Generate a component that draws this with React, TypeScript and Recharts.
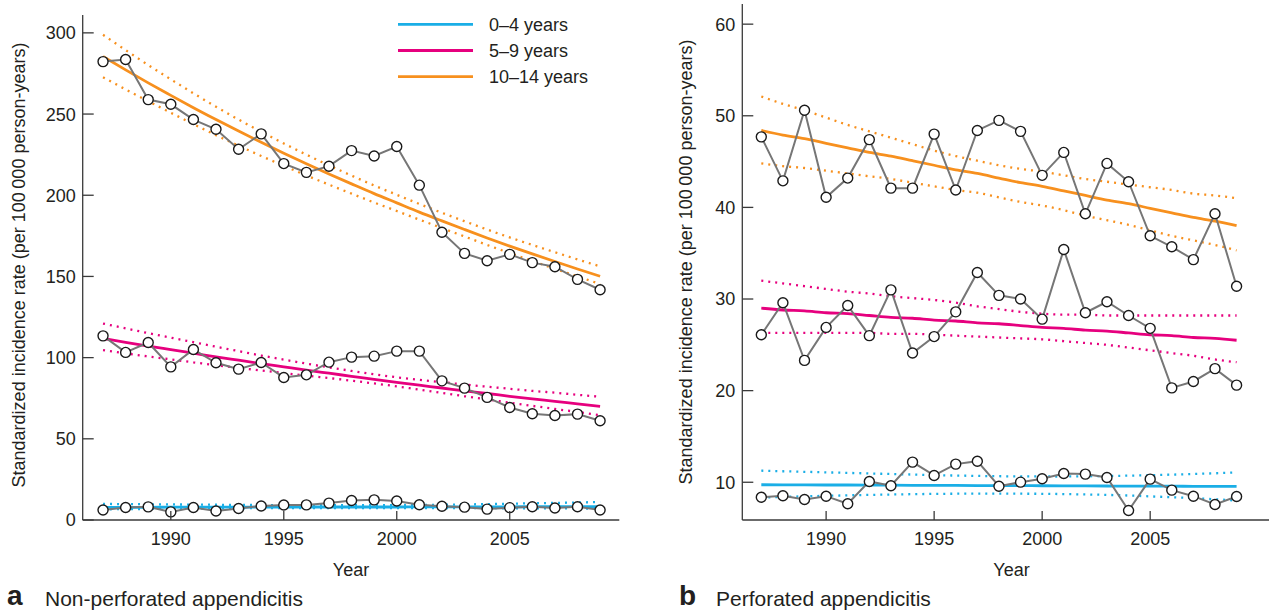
import { CartesianGrid, Line, LineChart, XAxis, YAxis } from "recharts";

const years = [
  1987, 1988, 1989, 1990, 1991, 1992, 1993, 1994, 1995, 1996, 1997, 1998,
  1999, 2000, 2001, 2002, 2003, 2004, 2005, 2006, 2007, 2008, 2009,
];
const xTicks = [1990, 1995, 2000, 2005];
const nonPerfTicks = [0, 50, 100, 150, 200, 250, 300];
const perfTicks = [10, 20, 30, 40, 50, 60];
const ageGroups = ["0\u20134 years", "5\u20139 years", "10\u201314 years"];

// a: non-perforated appendicitis
const nonPerf0to4 = [6.2, 7.7, 8.1, 5.0, 7.7, 5.5, 7.1, 8.6, 9.2, 9.3, 10.4, 12.0, 12.4, 11.7, 9.4, 8.5, 7.9, 6.7, 7.6, 8.2, 7.4, 8.2, 6.2];
const nonPerf0to4Fit = [7.8, 7.8, 7.8, 7.9, 7.9, 7.9, 7.9, 7.9, 7.9, 8.0, 8.0, 8.0, 8.0, 8.0, 8.1, 8.1, 8.1, 8.1, 8.1, 8.2, 8.2, 8.2, 8.2];
const nonPerf0to4Hi = [9.9, 9.8, 9.7, 9.6, 9.5, 9.4, 9.3, 9.2, 9.2, 9.1, 9.1, 9.1, 9.1, 9.2, 9.3, 9.4, 9.6, 9.8, 10.0, 10.3, 10.5, 10.8, 11.1];
const nonPerf0to4Lo = [6.6, 6.7, 6.8, 6.9, 7.0, 7.1, 7.2, 7.3, 7.3, 7.3, 7.3, 7.3, 7.3, 7.3, 7.3, 7.3, 7.3, 7.3, 7.2, 7.2, 7.1, 7.1, 7.0];

const nonPerf5to9 = [113.4, 103.2, 109.3, 94.3, 105.0, 96.8, 92.9, 97.0, 87.8, 89.4, 97.2, 100.3, 100.9, 104.0, 104.0, 85.7, 81.2, 75.5, 69.3, 65.4, 64.4, 65.2, 61.1];
const nonPerf5to9Fit = [111.8, 109.4, 107.1, 104.9, 102.7, 100.5, 98.4, 96.3, 94.3, 92.3, 90.4, 88.5, 86.6, 84.8, 83.0, 81.3, 79.5, 77.9, 76.2, 74.6, 73.1, 71.5, 70.0];
const nonPerf5to9Hi = [121.0, 118.0, 115.1, 112.3, 109.5, 106.7, 104.0, 101.3, 98.8, 96.3, 94.0, 91.8, 89.7, 87.9, 86.3, 84.9, 83.4, 82.1, 80.8, 79.5, 78.4, 77.1, 75.9];
const nonPerf5to9Lo = [104.6, 102.6, 100.7, 98.9, 97.1, 95.3, 93.7, 92.1, 90.5, 88.9, 87.4, 85.8, 84.1, 82.3, 80.3, 78.3, 76.2, 74.3, 72.2, 70.3, 68.4, 66.5, 64.6];

const nonPerf10to14 = [282.3, 283.6, 258.9, 256.0, 246.6, 240.6, 228.3, 237.8, 219.5, 214.1, 217.9, 227.5, 224.2, 230.0, 206.2, 177.2, 164.2, 159.7, 163.6, 158.5, 156.0, 148.2, 141.8];
const nonPerf10to14Fit = [285.4, 277.2, 269.2, 261.5, 253.9, 246.6, 239.5, 232.6, 225.9, 219.4, 213.1, 207.0, 201.0, 195.3, 189.6, 184.2, 178.9, 173.7, 168.7, 163.9, 159.2, 154.6, 150.1];
const nonPerf10to14Hi = [298.8, 289.4, 280.2, 271.4, 262.8, 254.5, 246.6, 239.1, 231.9, 225.0, 218.4, 212.1, 206.0, 200.3, 194.6, 189.2, 184.0, 178.9, 174.0, 169.4, 164.9, 160.5, 156.2];
const nonPerf10to14Lo = [272.7, 265.2, 257.9, 250.8, 243.8, 237.0, 230.5, 224.2, 218.1, 212.2, 206.5, 201.0, 195.5, 190.3, 185.0, 179.8, 174.6, 169.4, 164.4, 159.5, 154.7, 150.0, 145.3];

// b: perforated appendicitis
const perf0to4 = [8.37, 8.52, 8.12, 8.48, 7.65, 10.09, 9.62, 12.2, 10.74, 11.98, 12.3, 9.57, 10.01, 10.38, 10.96, 10.89, 10.52, 6.92, 10.34, 9.14, 8.48, 7.57, 8.45];
const perf0to4Fit = [9.73, 9.72, 9.71, 9.7, 9.7, 9.69, 9.68, 9.67, 9.66, 9.65, 9.64, 9.64, 9.63, 9.62, 9.61, 9.6, 9.59, 9.58, 9.58, 9.57, 9.56, 9.55, 9.54];
const perf0to4Hi = [11.26, 11.2, 11.14, 11.08, 11.02, 10.96, 10.9, 10.84, 10.78, 10.73, 10.69, 10.66, 10.64, 10.63, 10.63, 10.65, 10.68, 10.72, 10.77, 10.83, 10.9, 10.98, 11.07];
const perf0to4Lo = [8.34, 8.4, 8.46, 8.52, 8.57, 8.62, 8.66, 8.7, 8.73, 8.75, 8.76, 8.76, 8.75, 8.74, 8.71, 8.67, 8.62, 8.55, 8.46, 8.37, 8.26, 8.14, 8.0];

const perf5to9 = [26.1, 29.6, 23.3, 26.9, 29.3, 26.0, 31.0, 24.1, 25.9, 28.6, 32.9, 30.4, 30.0, 27.8, 35.4, 28.5, 29.7, 28.2, 26.8, 20.3, 21.0, 22.4, 20.6];
const perf5to9Fit = [29.0, 28.8, 28.7, 28.5, 28.4, 28.2, 28.0, 27.9, 27.7, 27.6, 27.4, 27.3, 27.1, 26.9, 26.8, 26.6, 26.5, 26.3, 26.1, 26.0, 25.8, 25.7, 25.5];
const perf5to9Hi = [32.0, 31.7, 31.4, 31.1, 30.8, 30.6, 30.3, 30.1, 29.9, 29.6, 29.2, 28.9, 28.6, 28.4, 28.3, 28.3, 28.2, 28.2, 28.2, 28.2, 28.2, 28.2, 28.2];
const perf5to9Lo = [26.3, 26.3, 26.3, 26.3, 26.3, 26.3, 26.2, 26.2, 26.1, 26.0, 25.9, 25.8, 25.7, 25.6, 25.4, 25.2, 25.0, 24.7, 24.4, 24.1, 23.8, 23.4, 23.1];

const perf10to14 = [47.7, 42.9, 50.6, 41.1, 43.2, 47.4, 42.1, 42.1, 48.0, 41.9, 48.4, 49.5, 48.3, 43.5, 46.0, 39.3, 44.8, 42.8, 36.9, 35.7, 34.3, 39.3, 31.4];
const perf10to14Fit = [48.4, 47.9, 47.5, 47.0, 46.5, 46.0, 45.6, 45.1, 44.6, 44.1, 43.7, 43.2, 42.7, 42.3, 41.8, 41.3, 40.8, 40.4, 39.9, 39.4, 38.9, 38.5, 38.0];
const perf10to14Hi = [52.1, 51.3, 50.6, 49.8, 49.0, 48.3, 47.6, 46.9, 46.2, 45.6, 45.1, 44.6, 44.2, 43.9, 43.5, 43.1, 42.8, 42.5, 42.2, 41.9, 41.5, 41.3, 41.0];
const perf10to14Lo = [44.8, 44.5, 44.3, 44.0, 43.7, 43.4, 43.1, 42.7, 42.3, 41.9, 41.6, 41.1, 40.6, 40.2, 39.7, 39.1, 38.6, 38.1, 37.5, 36.9, 36.4, 35.9, 35.3];

const colors = ["#1aaee6", "#e6007e", "#f7901e"];
const INK = "#231f20";
const AXIS = "#3a3a3a";
const FONT = "'Liberation Sans', Arial, Helvetica, sans-serif";

const nonPerfRows = years.map((year, i) => ({
  year,
  obs0: nonPerf0to4[i], fit0: nonPerf0to4Fit[i], hi0: nonPerf0to4Hi[i], lo0: nonPerf0to4Lo[i],
  obs1: nonPerf5to9[i], fit1: nonPerf5to9Fit[i], hi1: nonPerf5to9Hi[i], lo1: nonPerf5to9Lo[i],
  obs2: nonPerf10to14[i], fit2: nonPerf10to14Fit[i], hi2: nonPerf10to14Hi[i], lo2: nonPerf10to14Lo[i],
}));

const perfRows = years.map((year, i) => ({
  year,
  obs0: perf0to4[i], fit0: perf0to4Fit[i], hi0: perf0to4Hi[i], lo0: perf0to4Lo[i],
  obs1: perf5to9[i], fit1: perf5to9Fit[i], hi1: perf5to9Hi[i], lo1: perf5to9Lo[i],
  obs2: perf10to14[i], fit2: perf10to14Fit[i], hi2: perf10to14Hi[i], lo2: perf10to14Lo[i],
}));

function YTick({ x, y, payload }: any) {
  const ax = x + 7;
  return (
    <g>
      <line x1={ax} x2={ax + 11} y1={y} y2={y} stroke={AXIS} strokeWidth={1.3} />
      <text x={x} y={y} dy="0.36em" textAnchor="end" fontSize={18} fill={INK} fontFamily={FONT}>
        {payload.value}
      </text>
    </g>
  );
}

function XTick({ x, y, payload }: any) {
  const ay = y - 12;
  return (
    <g>
      <line x1={x} x2={x} y1={ay} y2={ay - 9} stroke={AXIS} strokeWidth={1.3} />
      <text x={x} y={ay + 25} textAnchor="middle" fontSize={18} fill={INK} fontFamily={FONT}>
        {payload.value}
      </text>
    </g>
  );
}

function Panel({ rows, width, margin, xDomain, yDomain, yTicks }: any) {
  const idx = [0, 1, 2];
  return (
    <LineChart width={width} height={612} data={rows} margin={margin}>
      <CartesianGrid stroke="none" />
      <XAxis
        dataKey="year"
        type="number"
        domain={xDomain}
        ticks={xTicks}
        interval={0}
        allowDataOverflow
        height={30}
        tickLine={false}
        tickSize={0}
        tickMargin={12}
        axisLine={{ stroke: AXIS, strokeWidth: 1.3 }}
        tick={<XTick />}
      />
      <YAxis
        type="number"
        domain={yDomain}
        ticks={yTicks}
        interval={0}
        allowDataOverflow
        width={60}
        tickLine={false}
        tickSize={0}
        tickMargin={7}
        axisLine={{ stroke: AXIS, strokeWidth: 1.3 }}
        tick={<YTick />}
      />
      {idx.map((g) => (
        <Line key={`hi${g}`} dataKey={`hi${g}`} type="monotone" stroke={colors[g]} strokeWidth={2.3}
          strokeDasharray="2 5" dot={false} activeDot={false} isAnimationActive={false} />
      ))}
      {idx.map((g) => (
        <Line key={`lo${g}`} dataKey={`lo${g}`} type="monotone" stroke={colors[g]} strokeWidth={2.3}
          strokeDasharray="2 5" dot={false} activeDot={false} isAnimationActive={false} />
      ))}
      {idx.map((g) => (
        <Line key={`fit${g}`} dataKey={`fit${g}`} type="monotone" stroke={colors[g]} strokeWidth={2.8}
          dot={false} activeDot={false} isAnimationActive={false} />
      ))}
      {idx.map((g) => (
        <Line key={`obs${g}`} dataKey={`obs${g}`} type="linear" stroke="#767676" strokeWidth={2}
          dot={{ r: 5, fill: "#fff", stroke: "#1a1a1a", strokeWidth: 1.4 }}
          activeDot={false} isAnimationActive={false} />
      ))}
    </LineChart>
  );
}

export default function App() {
  const yLabel = "Standardized incidence rate (per 100\u2009000 person-years)";
  return (
    <div style={{ position: "absolute", left: 0, top: 0, width: 1269, height: 612, background: "#fff", overflow: "hidden" }}>
      <div style={{ position: "absolute", left: 0, top: 0 }}>
        <Panel
          rows={nonPerfRows}
          width={640}
          margin={{ top: 15, right: 20.7, bottom: 62, left: 22.7 }}
          xDomain={[1986.1, 2009.85]}
          yDomain={[0, 311]}
          yTicks={nonPerfTicks}
        />
      </div>
      <div style={{ position: "absolute", left: 640, top: 0 }}>
        <Panel
          rows={perfRows}
          width={629}
          margin={{ top: 4, right: 0, bottom: 62, left: 42.3 }}
          xDomain={[1986.12, 2010.5]}
          yDomain={[5.88, 62.2]}
          yTicks={perfTicks}
        />
      </div>
      <svg width={1269} height={612} style={{ position: "absolute", left: 0, top: 0, pointerEvents: "none" }}
        fontFamily={FONT} fill={INK}>
        {ageGroups.map((name, i) => (
          <g key={name}>
            <line x1={398} x2={473} y1={24.3 + i * 26.2} y2={24.3 + i * 26.2} stroke={colors[i]} strokeWidth={2.8} />
            <text x={489} y={31 + i * 26.2} fontSize={18}>{name}</text>
          </g>
        ))}
        <text x={18.5} y={265} fontSize={18} textAnchor="middle" dominantBaseline="central"
          transform="rotate(-90 18.5 265)">{yLabel}</text>
        <text x={686} y={262} fontSize={18} textAnchor="middle" dominantBaseline="central"
          transform="rotate(-90 686 262)">{yLabel}</text>
        <text x={351} y={576} fontSize={18} textAnchor="middle">Year</text>
        <text x={1011.5} y={576} fontSize={18} textAnchor="middle">Year</text>
        <text x={7} y={605} fontSize={28} fontWeight="bold">a</text>
        <text x={45} y={606} fontSize={21}>Non-perforated appendicitis</text>
        <text x={679} y={605} fontSize={28} fontWeight="bold">b</text>
        <text x={716} y={606} fontSize={21}>Perforated appendicitis</text>
      </svg>
    </div>
  );
}
